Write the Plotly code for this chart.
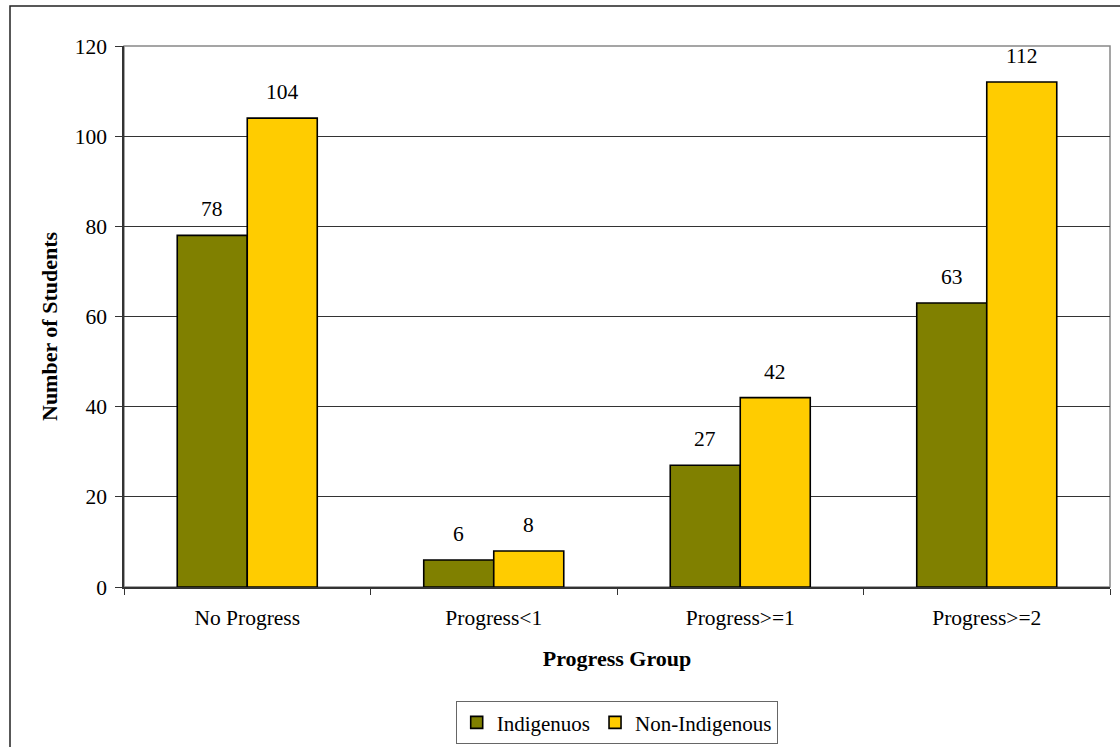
import plotly.graph_objects as go

# Student counts by progress group
groups = ["No Progress", "Progress<1", "Progress>=1", "Progress>=2"]
indigenous = [78, 6, 27, 63]
non_indigenous = [104, 8, 42, 112]
series_names = ["Indigenuos", "Non-Indigenous"]
y_ticks = [0, 20, 40, 60, 80, 100, 120]

FONT = "Liberation Serif"
FS = 21.5      # regular text size
FS_B = 22      # bold axis titles
W, H = 1120, 747
L, R, T, B = 124, 10, 46, 160
PW, PH = W - L - R, H - T - B

fig = go.Figure()
fig.add_trace(go.Bar(x=groups, y=indigenous, name=series_names[0],
                     marker=dict(color="#808000", line=dict(color="#000000", width=1.6))))
fig.add_trace(go.Bar(x=groups, y=non_indigenous, name=series_names[1],
                     marker=dict(color="#FFCC00", line=dict(color="#000000", width=1.6))))

# value labels above each bar
bar_half = 35
for vals, dx in ((indigenous, -bar_half), (non_indigenous, bar_half)):
    for g, v in zip(groups, vals):
        fig.add_annotation(x=g, y=v, xref="x", yref="y", text=str(v), showarrow=False,
                           xshift=dx, yshift=26, yanchor="middle",
                           font=dict(family=FONT, size=FS, color="#000000"))


def px_x(p):
    return (p - L) / PW


def px_y(p):
    return (H - B - p) / PH


# vertical axis title
fig.add_annotation(xref="paper", yref="paper", x=px_x(49), y=px_y(326),
                   text="<b>Number of Students</b>", textangle=-90, showarrow=False,
                   xanchor="center", yanchor="middle",
                   font=dict(family=FONT, size=FS_B, color="#000000"))

shapes = [
    # plot area frame (top / right edges)
    dict(type="rect", xref="paper", yref="paper", x0=0, x1=1, y0=0, y1=1,
         line=dict(color="#888888", width=1.5), layer="below"),
    # outer chart frame
    dict(type="rect", xref="paper", yref="paper", x0=px_x(10), x1=px_x(1140),
         y0=px_y(770), y1=px_y(6), line=dict(color="#222222", width=1.5), layer="below"),
]

fig.update_layout(
    width=W, height=H,
    margin=dict(l=L, r=R, t=T, b=B, autoexpand=False),
    paper_bgcolor="white", plot_bgcolor="white",
    barmode="group", bargap=0.432, bargroupgap=0,
    font=dict(family=FONT, size=FS, color="#000000"),
    shapes=shapes,
    showlegend=True,
    legend=dict(orientation="h", x=0.5, xanchor="center", y=px_y(701), yanchor="top",
                bordercolor="#666666", borderwidth=1.2, bgcolor="white",
                font=dict(family=FONT, size=21, color="#000000"), traceorder="normal",
                itemwidth=30, tracegroupgap=0),
    xaxis=dict(
        type="category", tickson="boundaries", ticks="outside", ticklen=6,
        tickcolor="#333333", tickwidth=1.3, ticklabelstandoff=10,
        showline=True, linecolor="#333333", linewidth=1.5,
        showgrid=False, tickfont=dict(family=FONT, size=FS, color="#000000"),
        title=dict(text="<b>Progress Group</b>",
                   font=dict(family=FONT, size=FS_B, color="#000000"), standoff=22),
    ),
    yaxis=dict(
        range=[0, 120], tickvals=y_ticks, ticks="outside", ticklen=7,
        tickcolor="#333333", tickwidth=1.3, ticklabelstandoff=4,
        showline=True, linecolor="#333333", linewidth=1.5,
        showgrid=True, gridcolor="#333333", gridwidth=1,
        zeroline=False, tickfont=dict(family=FONT, size=FS, color="#000000"),
    ),
)

fig.write_html("out.html")
